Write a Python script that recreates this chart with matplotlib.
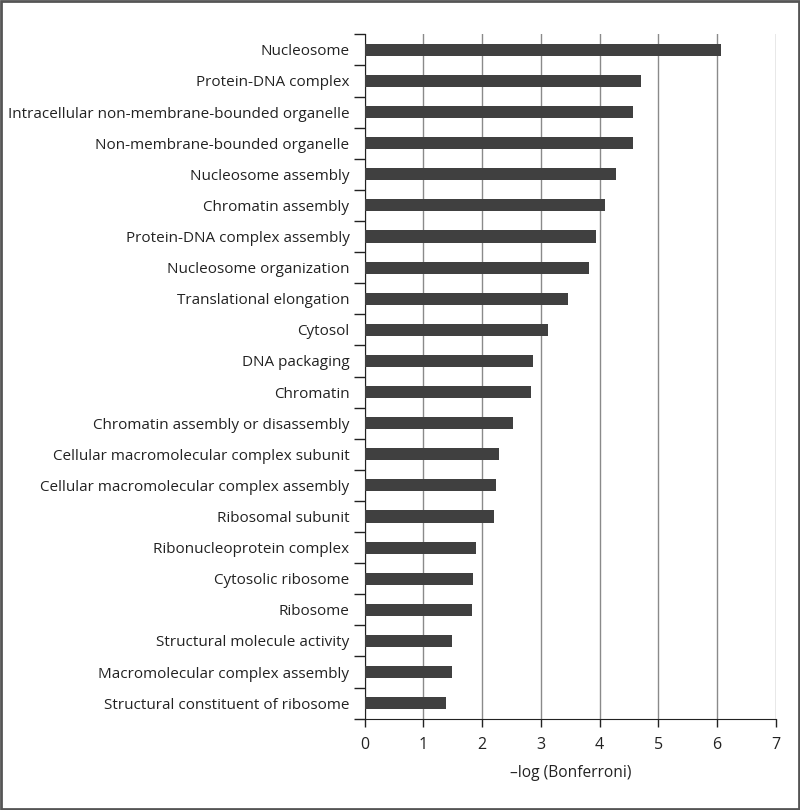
import numpy as np
import matplotlib.pyplot as plt
from matplotlib.ticker import FixedLocator, NullFormatter

plt.rcParams['font.family'] = ['Open Sans', 'DejaVu Sans']

# terms, top to bottom as in the chart
terms = [
    "Nucleosome",
    "Protein-DNA complex",
    "Intracellular non-membrane-bounded organelle",
    "Non-membrane-bounded organelle",
    "Nucleosome assembly",
    "Chromatin assembly",
    "Protein-DNA complex assembly",
    "Nucleosome organization",
    "Translational elongation",
    "Cytosol",
    "DNA packaging",
    "Chromatin",
    "Chromatin assembly or disassembly",
    "Cellular macromolecular complex subunit",
    "Cellular macromolecular complex assembly",
    "Ribosomal subunit",
    "Ribonucleoprotein complex",
    "Cytosolic ribosome",
    "Ribosome",
    "Structural molecule activity",
    "Macromolecular complex assembly",
    "Structural constituent of ribosome",
]
neg_log_bonf = [6.06, 4.70, 4.57, 4.57, 4.28, 4.09, 3.94, 3.82, 3.47, 3.13, 2.87,
                2.83, 2.53, 2.28, 2.24, 2.21, 1.90, 1.85, 1.82, 1.48, 1.48, 1.39]
x_ticks = [0, 1, 2, 3, 4, 5, 6, 7]

fig = plt.figure(figsize=(8, 8.1), dpi=100)
ax = fig.add_axes([364.7 / 800, 1 - 718.7 / 810, 411 / 800, 684.4 / 810])

n = len(terms)
y = np.arange(n)[::-1]
ax.barh(y, neg_log_bonf, height=0.39, color='#404040', zorder=3)

ax.set_xlim(0, 7)
ax.set_ylim(-0.5, n - 0.5)
ax.set_xticks(x_ticks)
ax.xaxis.grid(True, color='#8a8a8a', linewidth=1.0, zorder=0)
ax.set_axisbelow(True)

# labels at bar centres, tick marks between categories
ax.set_yticks(y)
ax.set_yticklabels(terms)
ax.tick_params(axis='y', length=0, pad=11, labelsize=11.0, labelcolor='#222222')
ax.yaxis.set_minor_locator(FixedLocator(np.arange(-0.5, n, 1.0)))
ax.yaxis.set_minor_formatter(NullFormatter())
ax.tick_params(axis='y', which='minor', length=8, width=1, color='#222222')
ax.tick_params(axis='x', length=6, width=1, color='#222222', labelsize=11.5,
               labelcolor='#222222', pad=7)

for side in ['top', 'right']:
    ax.spines[side].set_visible(False)
ax.spines['left'].set_color('#222222')
ax.spines['bottom'].set_color('#222222')

ax.set_xlabel('\u2013log (Bonferroni)', fontsize=11.2, color='#222222', labelpad=9)

# frame around the whole figure
fig.patches.append(plt.Rectangle((0.001, 0.001), 0.998, 0.998, transform=fig.transFigure,
                                 fill=False, edgecolor='#555555', linewidth=2))

fig.savefig('out.png', dpi=100)
